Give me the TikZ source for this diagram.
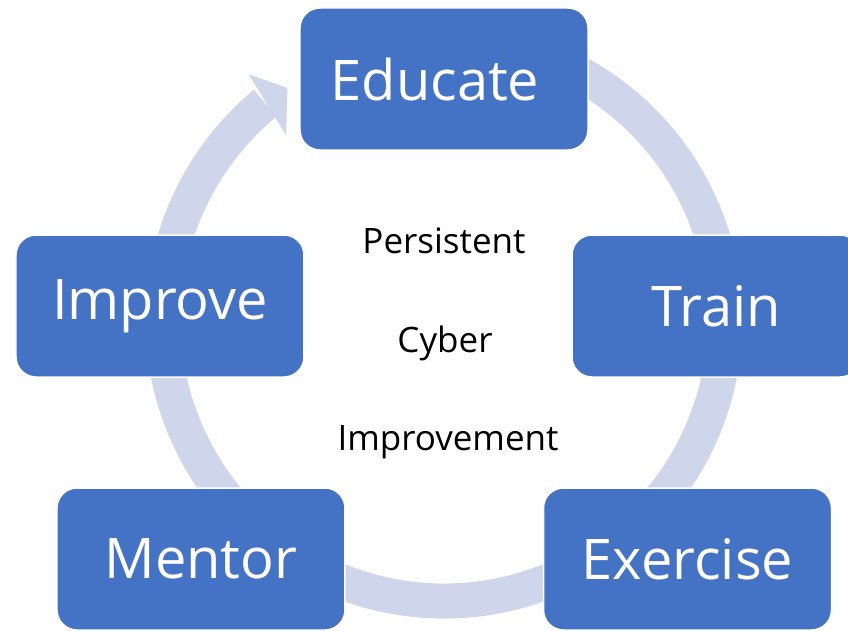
\documentclass[tikz,border=0pt]{standalone}
\usepackage{fontspec}
\setmainfont{Open Sans}
\usepackage{xcolor}
\usepackage{tikz}
\usetikzlibrary{positioning}
\definecolor{stageblue}{HTML}{4472C4}
\definecolor{ringgrey}{HTML}{CFD5EA}

\begin{document}
\begin{tikzpicture}[
    x=1pt, y=1pt,
    stagebox/.style={rectangle, rounded corners=20pt, fill=stageblue, draw=white, line width=1.5pt, minimum width=288pt, minimum height=142pt, inner sep=0pt, text=white, font=\fontsize{56}{60}\selectfont},
    centretext/.style={anchor=base, font=\fontsize{35}{40}\selectfont}
]
\useasboundingbox (-444,-310) rectangle (404,320);
% cycle ring with its head
\draw[ringgrey, line width=35pt] (75:281) arc[start angle=75, end angle=-230.5, radius=281];
\fill[ringgrey] (128.5:314) -- (124:280) -- (130.5:243) -- cycle;
% stages
\node[stagebox](educate) at (0,241){Educate\hspace*{18pt}};
\node[stagebox](train) at (272,14){Train};
\node[stagebox](exercise) at (243.5,-239){Exercise};
\node[stagebox](mentor) at (-243,-239){Mentor};
\node[stagebox](improve) at (-284,14){Improve};
% middle words
\node[centretext](persistent) at (0,67){Persistent};
\node[centretext](cyber) at (1,-32){Cyber};
\node[centretext](improvement) at (4,-130){Improvement};
\end{tikzpicture}
\end{document}
